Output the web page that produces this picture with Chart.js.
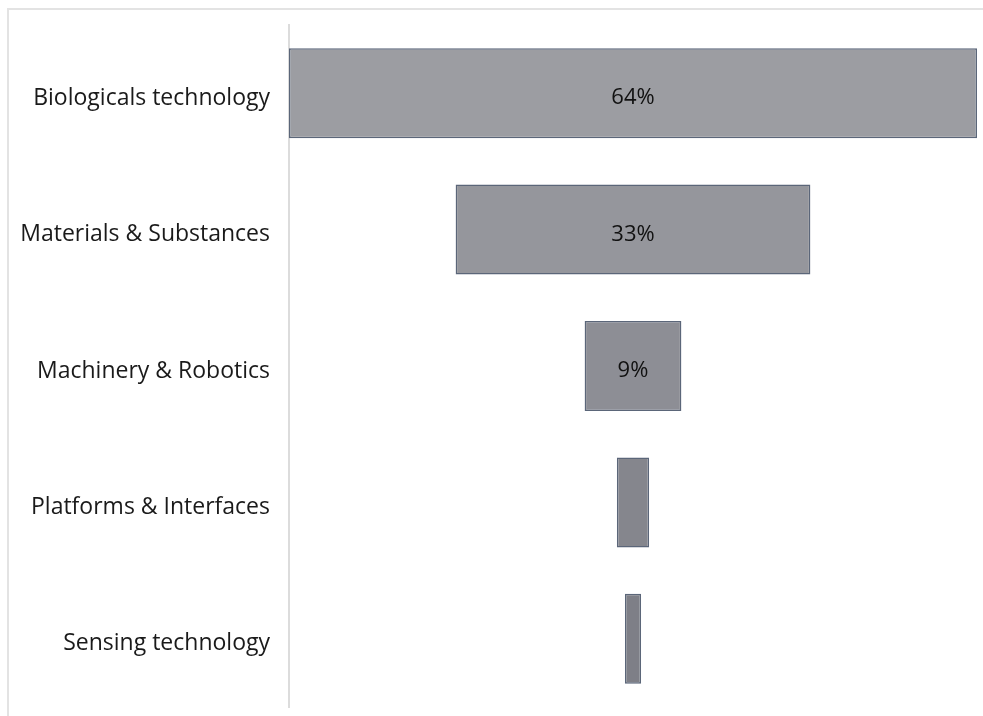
<!DOCTYPE html>
<html>
<head>
<meta charset="utf-8">
<script src="https://cdn.jsdelivr.net/npm/chart.js@4"></script>
<style>
  html, body { margin: 0; padding: 0; background: #fff; }
  .wrapper { position: relative; width: 983px; height: 716px; overflow: hidden; }
  .frame {
    position: absolute; left: 7px; top: 8px; right: -10px; bottom: -10px;
    border-left: 2px solid #e3e3e3; border-top: 2px solid #e3e3e3;
  }
  #funnel { position: absolute; left: 0; top: 0; }
</style>
</head>
<body>
<div class="wrapper">
  <div class="frame"></div>
  <canvas id="funnel" width="983" height="716"></canvas>
</div>
<script>
const categories = [
  "Biologicals technology",
  "Materials & Substances",
  "Machinery & Robotics",
  "Platforms & Interfaces",
  "Sensing technology",
];
const shares = [64, 33, 9, 3, 1.5];
const fills = ["#9c9da2", "#95969c", "#8d8e95", "#85868d", "#7e7f87"];

const maxShare = Math.max(...shares);
const mid = maxShare / 2;

// each bar floats around the middle so the stack reads as a funnel
const spans = shares.map((v) => [mid - v / 2, mid + v / 2]);

const centerLabels = {
  id: "centerLabels",
  afterDatasetsDraw(chart) {
    const ctx = chart.ctx;
    const meta = chart.getDatasetMeta(0);
    ctx.save();
    ctx.font = '22px "Open Sans"';
    ctx.fillStyle = "#111";
    ctx.textAlign = "center";
    ctx.textBaseline = "middle";
    meta.data.forEach((bar, i) => {
      const text = shares[i] + "%";
      const w = Math.abs(bar.x - bar.base);
      if (ctx.measureText(text).width + 8 > w) return;
      ctx.fillText(text, (bar.x + bar.base) / 2, bar.y + 5);
    });
    ctx.restore();
  },
};

new Chart(document.querySelector("#funnel"), {
  type: "bar",
  data: {
    labels: categories,
    datasets: [
      {
        data: spans,
        backgroundColor: fills,
        borderColor: "#5b6679",
        borderWidth: 1.5,
        borderSkipped: false,
        categoryPercentage: 1,
        barPercentage: 0.66,
      },
    ],
  },
  options: {
    indexAxis: "y",
    responsive: false,
    animation: false,
    layout: { padding: { top: 25, right: 6, bottom: 9, left: 0 } },
    plugins: {
      legend: { display: false },
      tooltip: { enabled: false },
    },
    scales: {
      x: { display: false, min: 0, max: maxShare },
      y: {
        grid: { display: false, drawTicks: false },
        border: { display: true, color: "#dcdcdc", width: 2 },
        ticks: {
          color: "#1a1a1a",
          padding: 19,
          labelOffset: 5,
          font: { family: "Open Sans", size: 23 },
        },
        afterFit(scale) {
          scale.width = 289;
          scale.paddingTop = 0;
          scale.paddingBottom = 0;
        },
      },
    },
  },
  plugins: [centerLabels],
});
</script>
</body>
</html>
